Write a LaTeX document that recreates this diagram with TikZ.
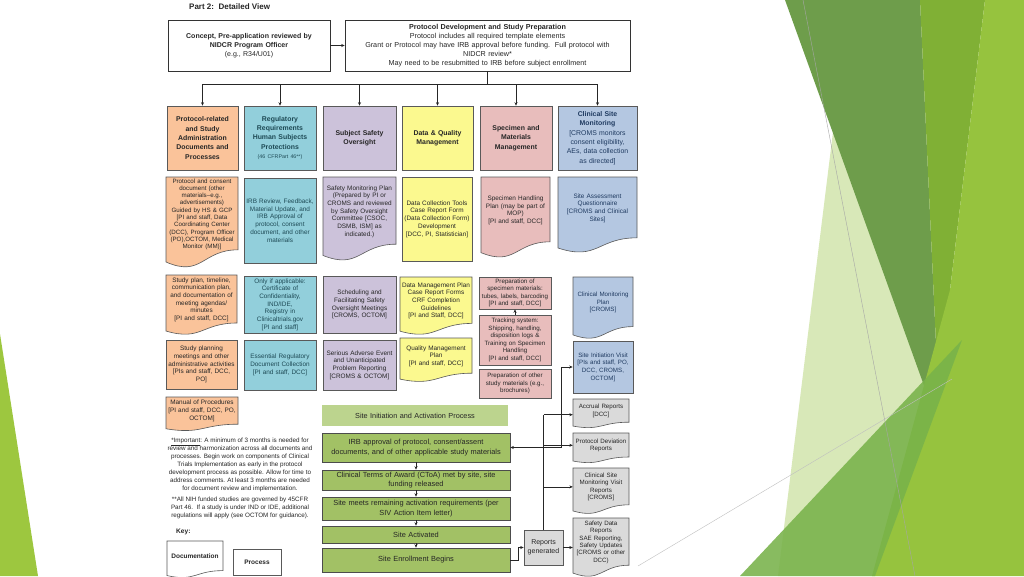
\documentclass[tikz,border=0pt]{standalone}
\usepackage{fontspec}
\setmainfont{Liberation Sans}
\usetikzlibrary{arrows.meta,calc}
\definecolor{orF}{HTML}{FAC39A}
\definecolor{tlF}{HTML}{92CFDB}
\definecolor{lvF}{HTML}{CCC2DA}
\definecolor{ylF}{HTML}{FBF98F}
\definecolor{pkF}{HTML}{E8BDBC}
\definecolor{blF}{HTML}{B4C7E1}
\definecolor{grF}{HTML}{A2C165}
\definecolor{grL}{HTML}{BCD48E}
\definecolor{gyF}{HTML}{DADADA}
\definecolor{bord}{HTML}{595959}
\definecolor{txt}{HTML}{262626}
\definecolor{navy}{HTML}{1F3A60}
\definecolor{tlT}{HTML}{1E4A55}
\definecolor{decLime}{HTML}{96C33E}
\definecolor{decOlive}{HTML}{80B035}
\definecolor{decDark}{HTML}{6E9D4B}
\definecolor{decPale}{HTML}{D8E8B8}
\definecolor{decMed}{HTML}{78B24A}
\definecolor{decLeft}{HTML}{9DC73F}
\newcommand\fs[2]{\fontsize{#1}{#2}\selectfont}
\tikzset{
  boxbase/.style={align=center, text=txt, inner sep=1pt, font=\fs{6.4}{7.7}},
  procstyle/.style={boxbase, draw=bord, line width=0.6pt},
  hdr/.style={font=\bfseries\fs{6.9}{9.4}},
  arr/.style={-{Stealth[length=3.5pt,width=3pt]}, line width=0.6pt, draw=black!85},
  conn/.style={line width=0.6pt, draw=black!85},
  biarr/.style={{Stealth[length=3.5pt,width=3pt]}-{Stealth[length=3.5pt,width=3pt]}, line width=0.6pt, draw=black!85},
}
% process box: name, x1, y1, x2, y2, styles, text
\newcommand\procbox[7]{%
  \pgfmathsetmacro\Bw{#4-#2}%
  \pgfmathsetmacro\Bh{#5-#3}%
  \pgfmathsetmacro\Tw{#4-#2-3}%
  \node[procstyle, minimum width=\Bw pt, minimum height=\Bh pt, text width=\Tw pt, #6] (#1) at ({(#2+#4)/2},{(#3+#5)/2}) {#7};%
}
% document box (wavy bottom): name, x1, y1, x2, y2, styles, text
\newcommand\docbox[7]{%
  \pgfmathsetmacro\Bw{#4-#2}%
  \pgfmathsetmacro\Dh{#5-#3}%
  \pgfmathsetmacro\Tw{#4-#2-3}%
  \pgfmathsetmacro\Ya{#3+0.80*\Dh}%
  \pgfmathsetmacro\Yb{#3+1.107*\Dh}%
  \pgfmathsetmacro\Yc{#3+0.934*\Dh}%
  \pgfmathsetmacro\Xm{(#2+#4)/2}%
  \pgfmathsetmacro\Yt{#3+0.41*\Dh}%
  \pgfmathsetmacro\Dth{0.78*\Dh}%
  \path[draw=bord, line width=0.6pt, #6] (#2,#3) -- (#4,#3) -- (#4,\Ya) .. controls (\Xm,\Ya) and (\Xm,\Yb) .. (#2,\Yc) -- cycle;%
  \node[boxbase, minimum width=\Bw pt, minimum height=\Dth pt, text width=\Tw pt, #6, fill=none, draw=none] (#1) at (\Xm,\Yt) {#7};%
}
\begin{document}
\begin{tikzpicture}[x=1pt,y=-1pt]
\fill[white] (0,0) rectangle (1024,576);
\useasboundingbox (0,0) rectangle (1024,576);
% ---------- decoration ----------
\fill[decLeft] (0,334) -- (38,576) -- (0,576) -- cycle;
\fill[decPale] (833,132) -- (778,576) -- (900,576) -- (950,440) -- cycle;
\fill[decDark] (785,0) -- (920,0) -- (940,430) -- cycle;
\fill[decOlive] (920,0) -- (985,0) -- (950,290) -- (940,430) -- cycle;
\fill[decLime] (985,0) -- (1024,0) -- (1024,576) -- (872,576) -- (950,290) -- cycle;
\fill[decMed, opacity=0.88] (740,576) -- (962,340) -- (875,576) -- cycle;
\draw[black!35, line width=0.4pt] (803,0) -- (915,576);
\draw[black!25, line width=0.4pt] (638,566) -- (952,379);
% ---------- title ----------
\node[anchor=west, font=\bfseries\fs{8}{9}, text=txt, inner sep=0pt] (title) at (189,7) {Part 2:\ \ Detailed View};
% ---------- top boxes ----------
\procbox{concept}{168}{20}{330}{71}{fill=white, draw=black!80, font=\fs{7}{9.3}}{\textbf{Concept, Pre-application reviewed by}\\\textbf{NIDCR Program Officer}\\(e.g., R34/U01)}
\procbox{proto}{345}{20}{630}{71}{fill=white, draw=black!80, font=\fs{7.2}{9}}{\textbf{Protocol Development and Study Preparation}\\Protocol includes all required template elements\\Grant or Protocol may have IRB approval before funding.\ \ Full protocol with\\NIDCR review*\\May need to be resubmitted to IRB before subject enrollment}
% ---------- headers ----------
\procbox{h1}{167}{106}{238}{170}{fill=orF, hdr}{Protocol-related\\and Study\\Administration\\Documents and\\Processes}
\procbox{h2}{244}{106}{316}{170}{fill=tlF, hdr, text=tlT}{Regulatory\\Requirements\\Human Subjects\\Protections\\{\mdseries\fs{5.3}{8}(46 CFRPart 46**)}}
\procbox{h3}{323}{106}{396}{170}{fill=lvF, hdr}{Subject Safety\\Oversight}
\procbox{h4}{402}{106}{473}{170}{fill=ylF, hdr}{Data \& Quality\\Management}
\procbox{h5}{480}{106}{552}{170}{fill=pkF, hdr}{Specimen and\\Materials\\Management}
\procbox{h6}{558}{106}{637}{170}{fill=blF, hdr, text=navy}{Clinical Site\\Monitoring\\{\mdseries [CROMS monitors\\consent eligibility,\\AEs, data collection\\as directed]}}
% ---------- row 2 ----------
\docbox{o2}{166}{177}{238}{268}{fill=orF, font=\fs{6.2}{7.3}}{Protocol and consent\\document (other\\materials--e.g.,\\advertisements)\\Guided by HS \& GCP\\{}[PI and staff, Data\\Coordinating Center\\(DCC), Program Officer\\(PO),OCTOM, Medical\\Monitor (MM)]}
\procbox{t2}{244}{178}{316}{263}{fill=tlF, text=tlT}{IRB Review, Feedback,\\Material Update, and\\IRB Approval of\\protocol, consent\\document, and other\\materials}
\docbox{l2}{323}{177}{396}{261}{fill=lvF}{Safety Monitoring Plan\\(Prepared by PI or\\CROMS and reviewed\\by Safety Oversight\\Committee [CSOC,\\DSMB, ISM] as\\indicated.)}
\procbox{y2}{402}{177}{472}{261}{fill=ylF}{Data Collection Tools\\Case Report Form\\(Data Collection Form)\\Development\\{}[DCC, PI, Statistician]}
\docbox{p2}{481}{177}{550}{258}{fill=pkF}{Specimen Handling\\Plan (may be part of\\MOP)\\{}[PI and staff, DCC]}
\docbox{b2}{558}{177}{637}{253}{fill=blF, text=navy}{Site Assessment\\Questionnaire\\{}[CROMS and Clinical\\Sites]}
% ---------- row 3 ----------
\docbox{o3}{166}{275}{237}{335}{fill=orF}{Study plan, timeline,\\communication plan,\\and documentation of\\meeting agendas/\\minutes\\{}[PI and staff, DCC]}
\procbox{t3}{244}{276}{316}{333}{fill=tlF, text=tlT}{Only if applicable:\\Certificate of\\Confidentiality,\\IND/IDE,\\Registry in\\Clinicaltrials.gov\\{}[PI and staff]}
\procbox{l3}{323}{276}{396}{333}{fill=lvF}{Scheduling and\\Facilitating Safety\\Oversight Meetings\\{}[CROMS, OCTOM]}
\docbox{y3}{400}{277}{472}{335}{fill=ylF}{Data Management Plan\\Case Report Forms\\CRF Completion\\Guidelines\\{}[PI and Staff, DCC]}
\procbox{pk1}{479}{277}{551}{309}{fill=pkF, font=\fs{6.2}{7.3}}{Preparation of\\specimen materials:\\tubes, labels, barcoding\\{}[PI and staff, DCC]}
\docbox{b3}{573}{277}{633}{339}{fill=blF, text=navy, font=\fs{6.2}{7.6}}{Clinical Monitoring\\Plan\\{}[CROMS]}
% ---------- row 4 ----------
\procbox{o4}{166}{340}{237}{389}{fill=orF}{Study planning\\meetings and other\\administrative activities\\{}[PIs and staff, DCC,\\PO]}
\procbox{t4}{244}{340}{316}{390}{fill=tlF, text=tlT}{Essential Regulatory\\Document Collection\\{}[PI and staff, DCC]}
\procbox{l4}{323}{340}{396}{390}{fill=lvF}{Serious Adverse Event\\and Unanticipated\\Problem Reporting\\{}[CROMS \& OCTOM]}
\docbox{y4}{400}{338}{472}{382}{fill=ylF}{Quality Management\\Plan\\{}[PI and staff, DCC]}
\procbox{pk2}{479}{315}{551}{365}{fill=pkF, font=\fs{6.2}{7.5}}{Tracking system:\\Shipping, handling,\\disposition logs \&\\Training on Specimen\\Handling\\{}[PI and staff, DCC]}
\procbox{pk3}{479}{369}{551}{398}{fill=pkF, font=\fs{6.2}{7.5}}{Preparation of other\\study materials (e.g.,\\brochures)}
\procbox{siv}{573}{341}{633}{393}{fill=blF, text=navy, font=\fs{6.2}{7.6}}{Site Initiation Visit\\{}[PIs and staff, PO,\\DCC, CROMS,\\OCTOM]}
% ---------- row 5 ----------
\docbox{o5}{166}{397}{238}{431}{fill=orF}{Manual of Procedures\\{}[PI and staff, DCC, PO,\\OCTOM]}
% ---------- notes and key ----------
\node[font=\fs{6.3}{8}, text=txt, align=center, anchor=north, inner sep=0pt] (note1) at (240,438) {\underline{*Important}: A minimum of 3 months is needed for\\review and harmonization across all documents and\\processes. Begin work on components of Clinical\\Trials Implementation as early in the protocol\\development process as possible. Allow for time to\\address comments. At least 3 months are needed\\for document review and implementation.};
\node[font=\fs{6.3}{8}, text=txt, align=center, anchor=north, inner sep=0pt] (note2) at (240,497) {**All NIH funded studies are governed by 45CFR\\Part 46.\ \ If a study is under IND or IDE, additional\\regulations will apply (see OCTOM for guidance).};
\node[font=\bfseries\fs{6.6}{8}, text=txt, anchor=west, inner sep=0pt] (key) at (176,532) {Key:};
\docbox{kdoc}{167}{541}{223}{578}{fill=white, font=\bfseries\fs{6.5}{8}}{Documentation}
\procbox{kproc}{233}{549}{281}{575}{fill=white, font=\bfseries\fs{6.5}{8}}{Process}
% ---------- green process ----------
\procbox{sia}{322}{405}{508}{426}{fill=grL, draw=none, font=\fs{7.3}{9}}{Site Initiation and Activation Process}
\procbox{irb}{322}{433}{510}{462}{fill=grF, draw=black!70, font=\fs{7.4}{9.4}}{IRB approval of protocol, consent/assent\\documents, and of other applicable study materials}
\procbox{ctoa}{322}{470}{510}{490}{fill=grF, draw=black!70, font=\fs{7.4}{9.2}}{Clinical Terms of Award (CToA) met by site, site\\funding released}
\procbox{meets}{322}{497}{510}{520}{fill=grF, draw=black!70, font=\fs{7.4}{9.2}}{Site meets remaining activation requirements (per\\SIV Action Item letter)}
\procbox{act}{322}{526}{510}{543}{fill=grF, draw=black!70, font=\fs{7.4}{9.2}}{Site Activated}
\procbox{enroll}{322}{548}{510}{572}{fill=grF, draw=black!70, font=\fs{7.4}{9.2}}{Site Enrollment Begins}
% ---------- reports ----------
\procbox{rg}{524}{530}{563}{565}{fill=gyF, font=\fs{7}{9}}{Reports\\generated}
\docbox{accrual}{573}{399}{629}{428}{fill=gyF, font=\fs{6.2}{7.4}}{Accrual Reports\\{}[DCC]}
\docbox{protdev}{573}{433}{629}{463}{fill=gyF, font=\fs{6.2}{7.4}}{Protocol Deviation\\Reports}
\docbox{csm}{573}{468}{629}{514}{fill=gyF, font=\fs{6.2}{7.4}}{Clinical Site\\Monitoring Visit\\Reports\\{}[CROMS]}
\docbox{safety}{573}{518}{629}{577}{fill=gyF, font=\fs{6.2}{7.4}}{Safety Data\\Reports\\SAE Reporting,\\Safety Updates\\{}[CROMS or other\\DCC)}
% ---------- connectors ----------
\draw[arr] (concept) -- (proto);
\draw[conn] (proto.south) -- ++(0,13) coordinate (hub);
\foreach \h in {h1,h2,h3,h4,h5,h6} \draw[arr] (hub) -| (\h.north);
\draw[arr] (pk2.north) -- (pk1.south);
\draw[biarr] (irb.east) -- ++(51,0) |- (siv.west);
\draw[arr] (irb) -- (ctoa);
\draw[arr] (ctoa) -- (meets);
\draw[arr] (meets) -- (act);
\draw[arr] (act) -- (enroll);
\draw[arr] (enroll.east) -- ++(8,0) |- (rg.west);
\draw[arr] (rg.east) -- (rg.east -| safety.west);
\draw[conn] (rg.north) -- ++(0,-115) coordinate (trunk);
\draw[arr] (trunk) -- (trunk -| accrual.west);
\draw[arr] (rg.north |- protdev.west) -- (protdev.west);
\draw[arr] (rg.north |- csm.west) -- (csm.west);
\end{tikzpicture}
\end{document}
